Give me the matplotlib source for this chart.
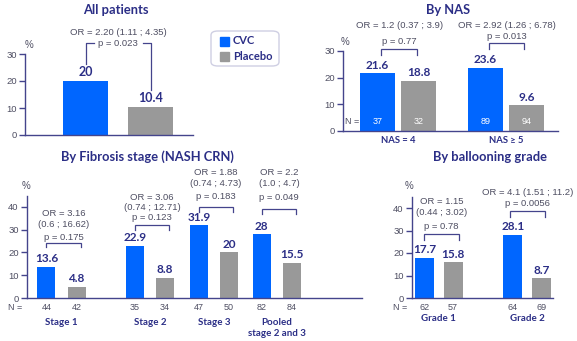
import matplotlib
matplotlib.use("Agg")
import matplotlib.pyplot as plt
from matplotlib.patches import FancyBboxPatch, Rectangle

# ---------------- data ----------------
series_names = ["CVC", "Placebo"]

all_cvc = [20.0]
all_placebo = [10.4]
all_or = ["OR = 2.20 (1.11 ; 4.35)"]
all_p = ["p = 0.023"]

nas_groups = ["NAS = 4", "NAS \u2265 5"]
nas_cvc = [21.6, 23.6]
nas_placebo = [18.8, 9.6]
nas_n_cvc = [37, 89]
nas_n_placebo = [32, 94]
nas_or = ["OR = 1.2 (0.37 ; 3.9)", "OR = 2.92 (1.26 ; 6.78)"]
nas_p = ["p = 0.77", "p = 0.013"]

fib_groups = ["Stage 1", "Stage 2", "Stage 3", "Pooled\nstage 2 and 3"]
fib_cvc = [13.6, 22.9, 31.9, 28.0]
fib_placebo = [4.8, 8.8, 20.0, 15.5]
fib_n_cvc = [44, 35, 47, 82]
fib_n_placebo = [42, 34, 50, 84]
fib_or = ["OR = 3.16\n(0.6 ; 16.62)", "OR = 3.06\n(0.74 ; 12.71)",
          "OR = 1.88\n(0.74 ; 4.73)", "OR = 2.2\n(1.0 ; 4.7)"]
fib_p = ["p = 0.175", "p = 0.123", "p = 0.183", "p = 0.049"]

bal_groups = ["Grade 1", "Grade 2"]
bal_cvc = [17.7, 28.1]
bal_placebo = [15.8, 8.7]
bal_n_cvc = [62, 64]
bal_n_placebo = [57, 69]
bal_or = ["OR = 1.15\n(0.44 ; 3.02)", "OR = 4.1 (1.51 ; 11.2)"]
bal_p = ["p = 0.78", "p = 0.0056"]

# ---------------- style ----------------
W, H = 577, 341
NAVY = "#2B2E86"
AXIS = "#44448C"
SMALL = "#4E4E62"
BLUE = "#0066FF"
GREY = "#999999"
BOLD_FONT = ["Lato", "DejaVu Sans"]
THIN_FONT = ["Liberation Sans", "DejaVu Sans"]
SMALL_SIZE = 6.8

fig = plt.figure(figsize=(W / 100, H / 100), dpi=100)
fig.patch.set_facecolor("white")


def fpos(x, y):
    return x / W, 1 - y / H


def make_axes(x0, x1, ybase, ytop, vtop, ticks):
    ax = fig.add_axes([x0 / W, (H - ybase) / H, (x1 - x0) / W, (ybase - ytop) / H])
    ax.set_xlim(0, 1)
    ax.set_ylim(0, vtop)
    for s in ("top", "right"):
        ax.spines[s].set_visible(False)
    for s in ("left", "bottom"):
        ax.spines[s].set_color(AXIS)
        ax.spines[s].set_linewidth(1.0)
    ax.set_xticks([])
    ax.set_yticks(ticks)
    ax.tick_params(axis="y", direction="out", length=4, width=1.0, color=AXIS,
                   labelsize=6.8, labelcolor=SMALL, pad=2)
    for lab in ax.get_yticklabels():
        lab.set_fontfamily(THIN_FONT)
    ax.patch.set_alpha(0)
    return ax


def draw_bars(ax, centers, off, width, cvc, pla, label_size=8.5):
    xs_c = [c - off for c in centers]
    xs_p = [c + off for c in centers]
    ax.bar(xs_c, cvc, width=width, color=BLUE, zorder=2)
    ax.bar(xs_p, pla, width=width, color=GREY, zorder=2)
    for xs, vals in ((xs_c, cvc), (xs_p, pla)):
        for x, v in zip(xs, vals):
            ax.annotate(f"{v:g}", (x, v), xytext=(0, 2), textcoords="offset points",
                        ha="center", va="bottom", fontsize=label_size,
                        fontweight="bold", color=NAVY, family=BOLD_FONT,
                        annotation_clip=False)
    return xs_c, xs_p


def bracket(ax, xa, xb, ybr, yleg):
    ax.plot([xa, xa, xb, xb], [yleg, ybr, ybr, yleg], color=AXIS, lw=0.9,
            clip_on=False, solid_joinstyle="miter")


def small(ax, x, y, s, **kw):
    ax.text(x, y, s, ha="center", va="center", fontsize=SMALL_SIZE, color=SMALL,
            family=THIN_FONT, linespacing=1.2, clip_on=False, **kw)


def title(x, y, s):
    fig.text(*fpos(x, y), s, ha="center", va="center", fontsize=9.3,
             fontweight="bold", color=NAVY, family=BOLD_FONT)


def percent(x, y):
    fig.text(*fpos(x, y), "%", ha="center", va="center", fontsize=7,
             color=SMALL, family=THIN_FONT)


# ---------------- All patients ----------------
ax1 = make_axes(25, 193, 135, 54, 30, [0, 10, 20, 30])
xc, xp = draw_bars(ax1, [0.554], 0.1935, 0.268, all_cvc, all_placebo, 9)
title(116, 10, "All patients")
percent(29, 45)
small(ax1, 0.554, 38.1, all_or[0])
small(ax1, 0.554, 34.0, all_p[0])
ax1.plot([xc[0], xc[0], 0.41], [26.3, 34.1, 34.1], color=AXIS, lw=0.9, clip_on=False)
ax1.plot([0.70, xp[0], xp[0]], [34.1, 34.1, 16.8], color=AXIS, lw=0.9, clip_on=False)

# legend box
leg = FancyBboxPatch((fpos(211, 66)[0], fpos(211, 66)[1]), 68 / W, 35 / H,
                     boxstyle="round,pad=0,rounding_size=0.012",
                     transform=fig.transFigure, facecolor="white",
                     edgecolor="#CFCFE3", lw=1.0)
fig.patches.append(leg)
for (yy, col, name) in ((41, BLUE, series_names[0]), (56, GREY, series_names[1])):
    fig.patches.append(Rectangle(fpos(220, yy + 4.5), 9 / W, 9 / H,
                                 transform=fig.transFigure, color=col))
    fig.text(*fpos(233, yy), name, ha="left", va="center", fontsize=8,
             fontweight="bold", color=NAVY, family=BOLD_FONT)

# ---------------- By NAS ----------------
ax2 = make_axes(343, 558, 131, 51, 30, [0, 10, 20, 30])
nas_centers = [0.256, 0.757]
xc, xp = draw_bars(ax2, nas_centers, 0.0955, 0.163, nas_cvc, nas_placebo)
title(448, 10, "By NAS")
percent(345, 42)
nas_or_y = [39.7, 39.7]
nas_p_y = [33.4, 35.6]
nas_br_y = [30.7, 33.0]
for i, c in enumerate(nas_centers):
    small(ax2, c + 0.005, nas_or_y[i], nas_or[i])
    small(ax2, c + 0.005, nas_p_y[i], nas_p[i])
    bracket(ax2, c - 0.077, c + 0.086, nas_br_y[i], nas_br_y[i] - 2.2)
    for x, n in ((xc[i], nas_n_cvc[i]), (xp[i], nas_n_placebo[i])):
        ax2.text(x, 3.75, str(n), ha="center", va="center", fontsize=6.5,
                 color="white", family=THIN_FONT, zorder=3)
    ax2.text(c, -3.5, nas_groups[i], ha="center", va="center", fontsize=6.8,
             fontweight="bold", color=NAVY, family=BOLD_FONT, clip_on=False)
ax2.text(0.042, 3.75, "N =", ha="center", va="center", fontsize=6.5,
         color=SMALL, family=THIN_FONT, zorder=3)

# ---------------- By Fibrosis stage ----------------
ax3 = make_axes(27, 362, 298, 195.6, 45, [0, 10, 20, 30, 40])
fib_centers = [0.103, 0.367, 0.558, 0.746]
xc, xp = draw_bars(ax3, fib_centers, 0.045, 0.054, fib_cvc, fib_placebo)
title(147, 157, "By Fibrosis stage (NASH CRN)")
percent(26, 186)
fib_or_y = [34.8, 41.9, 52.7, 52.7]
fib_p_y = [26.8, 35.2, 44.8, 44.0]
fib_br_y = [24.2, 32.1, 40.0, 39.1]
for i, c in enumerate(fib_centers):
    bc = c + 0.006
    small(ax3, bc, fib_or_y[i], fib_or[i])
    small(ax3, bc, fib_p_y[i], fib_p[i])
    bracket(ax3, bc - 0.051, bc + 0.051, fib_br_y[i], fib_br_y[i] - 2.0)
    for x, n in ((xc[i], fib_n_cvc[i]), (xp[i], fib_n_placebo[i])):
        ax3.text(x, -4.0, str(n), ha="center", va="center", fontsize=6.5,
                 color=SMALL, family=THIN_FONT, clip_on=False)
    ax3.text(c, -8.9, fib_groups[i], ha="center", va="top", fontsize=7,
             fontweight="bold", color=NAVY, family=BOLD_FONT, clip_on=False,
             linespacing=1.3)
ax3.text(-0.036, -4.3, "N =", ha="center", va="center", fontsize=6.5,
         color=SMALL, family=THIN_FONT, clip_on=False)

# ---------------- By ballooning grade ----------------
ax4 = make_axes(412, 553, 298, 196.75, 45, [0, 10, 20, 30, 40])
bal_centers = [0.19, 0.817]
xc, xp = draw_bars(ax4, bal_centers, 0.101, 0.135, bal_cvc, bal_placebo)
title(490, 157, "By ballooning grade")
percent(409, 186)
bal_or_y = [40.4, 47.1]
bal_p_y = [31.6, 41.8]
bal_br_y = [28.4, 38.7]
bal_shift = [0.019, 0.002]
for i, c in enumerate(bal_centers):
    bc = c + bal_shift[i]
    small(ax4, bc, bal_or_y[i], bal_or[i])
    small(ax4, bc, bal_p_y[i], bal_p[i])
    bracket(ax4, bc - 0.124, bc + 0.124, bal_br_y[i], bal_br_y[i] - 2.6)
    for x, n in ((xc[i], bal_n_cvc[i]), (xp[i], bal_n_placebo[i])):
        ax4.text(x, -4.0, str(n), ha="center", va="center", fontsize=6.5,
                 color=SMALL, family=THIN_FONT, clip_on=False)
    ax4.text(c, -9.3, bal_groups[i], ha="center", va="center", fontsize=7,
             fontweight="bold", color=NAVY, family=BOLD_FONT, clip_on=False)
ax4.text(-0.085, -4.3, "N =", ha="center", va="center", fontsize=6.5,
         color=SMALL, family=THIN_FONT, clip_on=False)

fig.savefig("out.png", dpi=100, facecolor="white")
